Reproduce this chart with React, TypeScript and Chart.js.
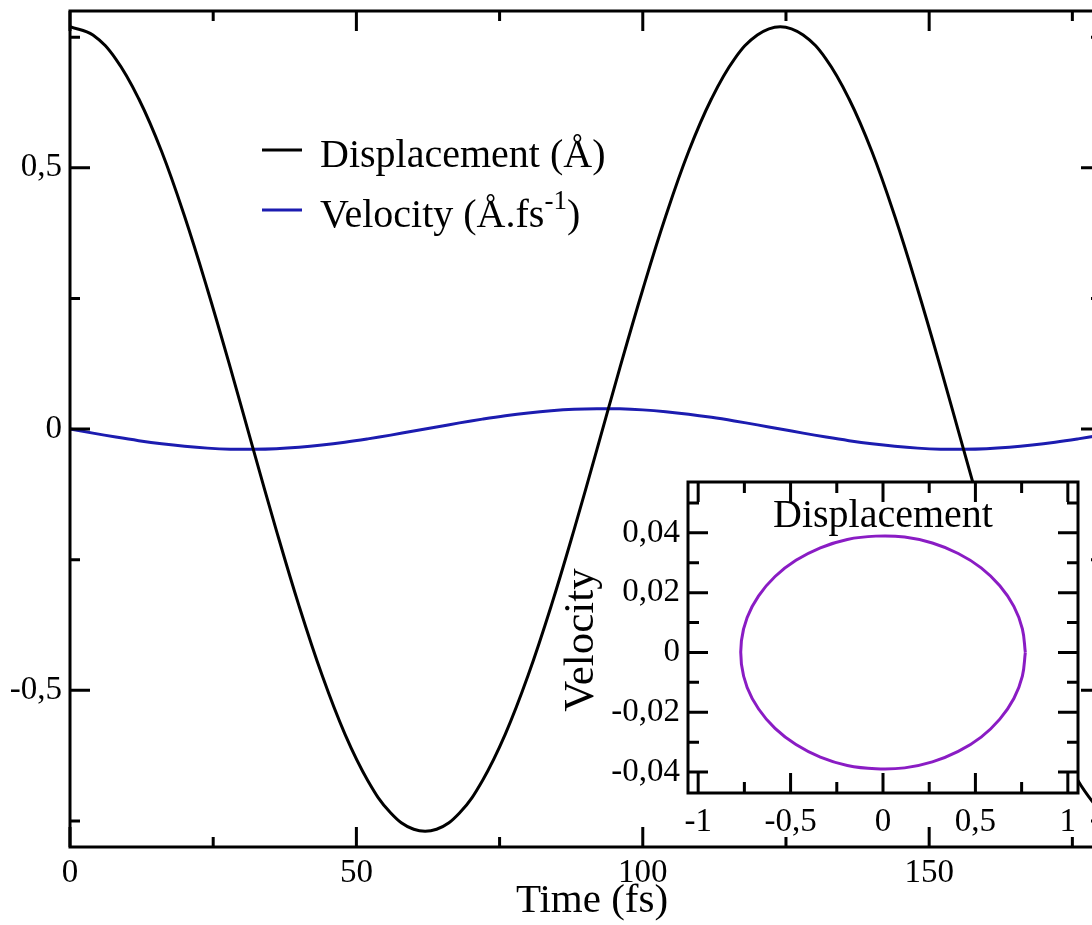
import React, { useEffect, useRef } from "react";
import { Chart, registerables } from "chart.js";

Chart.register(...registerables);

// ---- data ----
const TIME_FS = [
  0, 4, 8, 12, 16, 20, 24, 28, 32, 36, 40, 44, 48, 52, 56, 60, 64, 68, 72, 76, 80, 84, 88, 92,
  96, 100, 104, 108, 112, 116, 120, 124, 128, 132, 136, 140, 144, 148, 152, 156, 160, 164, 168,
  172, 176, 180,
];
const DISPLACEMENT = [
  0.77, 0.754, 0.708, 0.632, 0.531, 0.407, 0.267, 0.117, -0.039, -0.193, -0.339, -0.471, -0.584,
  -0.673, -0.735, -0.766, -0.766, -0.735, -0.673, -0.584, -0.471, -0.339, -0.193, -0.039, 0.117,
  0.267, 0.407, 0.531, 0.632, 0.708, 0.754, 0.77, 0.754, 0.708, 0.632, 0.531, 0.407, 0.267, 0.117,
  -0.039, -0.193, -0.339, -0.471, -0.584, -0.673, -0.735,
];
const VELOCITY = [
  0.0, -0.0079, -0.0154, -0.0223, -0.0283, -0.0331, -0.0366, -0.0386, -0.0389, -0.0378, -0.035,
  -0.0308, -0.0254, -0.0189, -0.0117, -0.0039, 0.0039, 0.0117, 0.0189, 0.0254, 0.0308, 0.035,
  0.0378, 0.0389, 0.0386, 0.0366, 0.0331, 0.0283, 0.0223, 0.0154, 0.0079, 0.0, -0.0079, -0.0154,
  -0.0223, -0.0283, -0.0331, -0.0366, -0.0386, -0.0389, -0.0378, -0.035, -0.0308, -0.0254,
  -0.0189, -0.0117,
];
const SERIES_LABELS = ["Displacement (Å)", "Velocity (Å.fs^{-1})"];
const PHASE_POINTS = 32; // one full period (0..124 fs) for the phase-space inset

const MAIN_X_TICKS = [0, 50, 100, 150];
const MAIN_X_LABELS = ["0", "50", "100", "150"];
const MAIN_X_MINOR = [25, 75, 125, 175];
const MAIN_Y_TICKS = [-0.5, 0, 0.5];
const MAIN_Y_LABELS = ["-0,5", "0", "0,5"];
const MAIN_Y_MINOR = [-0.75, -0.25, 0.25, 0.75];
const MAIN_X_TITLE = "Time (fs)";

const INSET_X_TICKS = [-1, -0.5, 0, 0.5, 1];
const INSET_X_LABELS = ["-1", "-0,5", "0", "0,5", "1"];
const INSET_X_MINOR = [-0.75, -0.25, 0.25, 0.75];
const INSET_Y_TICKS = [-0.04, -0.02, 0, 0.02, 0.04];
const INSET_Y_LABELS = ["-0,04", "-0,02", "0", "0,02", "0,04"];
const INSET_Y_MINOR = [-0.03, -0.01, 0.01, 0.03, 0.05];
const INSET_X_TITLE = "Displacement";
const INSET_Y_TITLE = "Velocity";

// ---- styling ----
const SERIF = '"Liberation Serif", "Times New Roman", serif';
const TICK_FONT = { family: SERIF, size: 33 };
const BLACK = "#000000";
const BLUE = "#1c1cb0";
const PURPLE = "#8a1cc4";

function zeroPadding(s: any) {
  s.paddingTop = 0;
  s.paddingBottom = 0;
  s.paddingLeft = 0;
  s.paddingRight = 0;
}

function frameTicksPlugin(
  id: string,
  xMajor: number[],
  xMinor: number[],
  yMajor: number[],
  yMinor: number[],
  majorLen: number,
  minorLen: number
) {
  return {
    id,
    afterDraw(chart: any) {
      const { ctx, chartArea } = chart;
      const { left, right, top, bottom } = chartArea;
      const xs = chart.scales.x;
      const ys = chart.scales.y;
      ctx.save();
      ctx.strokeStyle = BLACK;
      ctx.lineWidth = 3;
      ctx.lineCap = "butt";
      ctx.beginPath();
      const vt = (vals: number[], len: number) => {
        vals.forEach((v) => {
          const p = xs.getPixelForValue(v);
          ctx.moveTo(p, bottom);
          ctx.lineTo(p, bottom - len);
          ctx.moveTo(p, top);
          ctx.lineTo(p, top + len);
        });
      };
      const ht = (vals: number[], len: number) => {
        vals.forEach((v) => {
          const p = ys.getPixelForValue(v);
          ctx.moveTo(left, p);
          ctx.lineTo(left + len, p);
          ctx.moveTo(right, p);
          ctx.lineTo(right - len, p);
        });
      };
      vt(xMajor, majorLen);
      vt(xMinor, minorLen);
      ht(yMajor, majorLen);
      ht(yMinor, minorLen);
      ctx.stroke();
      ctx.strokeRect(left, top, right - left, bottom - top);
      ctx.restore();
    },
  };
}

const mainTextPlugin = {
  id: "mainText",
  afterDraw(chart: any) {
    const ctx = chart.ctx;
    ctx.save();
    ctx.fillStyle = BLACK;
    ctx.textAlign = "left";
    ctx.textBaseline = "alphabetic";
    const lineY = [150, 210];
    const baseY = [167, 227];
    chart.data.datasets.forEach((ds: any, i: number) => {
      ctx.strokeStyle = ds.borderColor;
      ctx.lineWidth = 3;
      ctx.beginPath();
      ctx.moveTo(262, lineY[i]);
      ctx.lineTo(302, lineY[i]);
      ctx.stroke();
      const label: string = ds.label;
      const m = label.match(/^(.*)\^\{([^}]*)\}(.*)$/);
      ctx.font = `40px ${SERIF}`;
      if (m) {
        let x = 320;
        ctx.fillText(m[1], x, baseY[i]);
        x += ctx.measureText(m[1]).width;
        ctx.font = `27px ${SERIF}`;
        ctx.fillText(m[2], x, baseY[i] - 18);
        x += ctx.measureText(m[2]).width;
        ctx.font = `40px ${SERIF}`;
        ctx.fillText(m[3], x, baseY[i]);
      } else {
        ctx.fillText(label, 320, baseY[i]);
      }
    });
    ctx.font = `41px ${SERIF}`;
    ctx.textAlign = "center";
    ctx.fillText(MAIN_X_TITLE, 592, 912);
    ctx.restore();
  },
};

const insetBgPlugin = {
  id: "insetBg",
  beforeDraw(chart: any) {
    const { ctx, chartArea } = chart;
    ctx.save();
    ctx.fillStyle = "#ffffff";
    ctx.fillRect(chartArea.left, chartArea.top, chartArea.right - chartArea.left, chartArea.bottom - chartArea.top);
    ctx.restore();
  },
};

const insetTextPlugin = {
  id: "insetText",
  afterDraw(chart: any) {
    const { ctx, chartArea } = chart;
    ctx.save();
    ctx.fillStyle = BLACK;
    ctx.font = `40px ${SERIF}`;
    ctx.textAlign = "center";
    ctx.textBaseline = "alphabetic";
    ctx.fillText(INSET_X_TITLE, (chartArea.left + chartArea.right) / 2, 87);
    ctx.translate(42, 200);
    ctx.rotate(-Math.PI / 2);
    ctx.textBaseline = "middle";
    ctx.font = `43px ${SERIF}`;
    ctx.fillText(INSET_Y_TITLE, 0, 0);
    ctx.restore();
  },
};

export default function App() {
  const mainRef = useRef<HTMLCanvasElement>(null);
  const insetRef = useRef<HTMLCanvasElement>(null);

  useEffect(() => {
    const common = {
      grid: { display: false, drawTicks: false },
      border: { display: false },
    };
    const main = new Chart(mainRef.current as HTMLCanvasElement, {
      type: "line",
      data: {
        datasets: [
          {
            label: SERIES_LABELS[0],
            data: TIME_FS.map((t, i) => ({ x: t, y: DISPLACEMENT[i] })),
            borderColor: BLACK,
            borderWidth: 3,
            pointRadius: 0,
            fill: false,
            tension: 0.4,
          },
          {
            label: SERIES_LABELS[1],
            data: TIME_FS.map((t, i) => ({ x: t, y: VELOCITY[i] })),
            borderColor: BLUE,
            borderWidth: 3,
            pointRadius: 0,
            fill: false,
            tension: 0.4,
          },
        ],
      },
      options: {
        animation: false,
        responsive: false,
        devicePixelRatio: 1,
        events: [],
        layout: { padding: { top: 11, right: 3, left: 0, bottom: 0 } },
        plugins: { legend: { display: false }, tooltip: { enabled: false }, title: { display: false } },
        scales: {
          x: {
            type: "linear",
            min: 0,
            max: 180,
            ...common,
            afterBuildTicks: (s: any) => {
              s.ticks = MAIN_X_TICKS.map((v) => ({ value: v }));
            },
            afterFit: (s: any) => {
              s.height = 78;
              zeroPadding(s);
            },
            ticks: {
              font: TICK_FONT,
              color: BLACK,
              padding: 7,
              maxRotation: 0,
              autoSkip: false,
              callback: (_v: any, i: number) => MAIN_X_LABELS[i],
            },
          },
          y: {
            type: "linear",
            min: -0.8,
            max: 0.8,
            ...common,
            afterBuildTicks: (s: any) => {
              s.ticks = MAIN_Y_TICKS.map((v) => ({ value: v }));
            },
            afterFit: (s: any) => {
              s.width = 70;
              zeroPadding(s);
            },
            ticks: {
              font: TICK_FONT,
              color: BLACK,
              padding: 8,
              autoSkip: false,
              callback: (_v: any, i: number) => MAIN_Y_LABELS[i],
            },
          },
        },
      } as any,
      plugins: [
        frameTicksPlugin("mainFrame", MAIN_X_TICKS, MAIN_X_MINOR, MAIN_Y_TICKS, MAIN_Y_MINOR, 20, 10),
        mainTextPlugin,
      ],
    } as any);

    const inset = new Chart(insetRef.current as HTMLCanvasElement, {
      type: "scatter",
      data: {
        datasets: [
          {
            label: "Phase space",
            data: DISPLACEMENT.slice(0, PHASE_POINTS).map((d, i) => ({ x: d, y: VELOCITY[i] })),
            borderColor: PURPLE,
            backgroundColor: PURPLE,
            borderWidth: 3,
            pointRadius: 0,
            showLine: true,
            tension: 0.4,
            fill: false,
          },
        ],
      },
      options: {
        animation: false,
        responsive: false,
        devicePixelRatio: 1,
        events: [],
        layout: { padding: { top: 42, right: 14, left: 0, bottom: 0 } },
        plugins: { legend: { display: false }, tooltip: { enabled: false }, title: { display: false } },
        scales: {
          x: {
            type: "linear",
            min: -1.055,
            max: 1.055,
            ...common,
            afterBuildTicks: (s: any) => {
              s.ticks = INSET_X_TICKS.map((v) => ({ value: v }));
            },
            afterFit: (s: any) => {
              s.height = 67;
              zeroPadding(s);
            },
            ticks: {
              font: TICK_FONT,
              color: BLACK,
              padding: 10,
              maxRotation: 0,
              autoSkip: false,
              callback: (_v: any, i: number) => INSET_X_LABELS[i],
            },
          },
          y: {
            type: "linear",
            min: -0.047,
            max: 0.057,
            ...common,
            afterBuildTicks: (s: any) => {
              s.ticks = INSET_Y_TICKS.map((v) => ({ value: v }));
            },
            afterFit: (s: any) => {
              s.width = 148;
              zeroPadding(s);
            },
            ticks: {
              font: TICK_FONT,
              color: BLACK,
              padding: 8,
              autoSkip: false,
              callback: (_v: any, i: number) => INSET_Y_LABELS[i],
            },
          },
        },
      } as any,
      plugins: [
        insetBgPlugin,
        frameTicksPlugin("insetFrame", INSET_X_TICKS, INSET_X_MINOR, INSET_Y_TICKS, INSET_Y_MINOR, 20, 11),
        insetTextPlugin,
      ],
    } as any);

    return () => {
      main.destroy();
      inset.destroy();
    };
  }, []);

  return (
    <div
      style={{
        position: "fixed",
        left: 0,
        top: 0,
        width: 1092,
        height: 925,
        overflow: "hidden",
        background: "#ffffff",
      }}
    >
      <canvas
        ref={mainRef}
        width={1104}
        height={925}
        style={{ position: "absolute", left: 0, top: 0, width: 1104, height: 925 }}
      />
      <canvas
        ref={insetRef}
        width={552}
        height={420}
        style={{ position: "absolute", left: 540, top: 440, width: 552, height: 420 }}
      />
    </div>
  );
}
